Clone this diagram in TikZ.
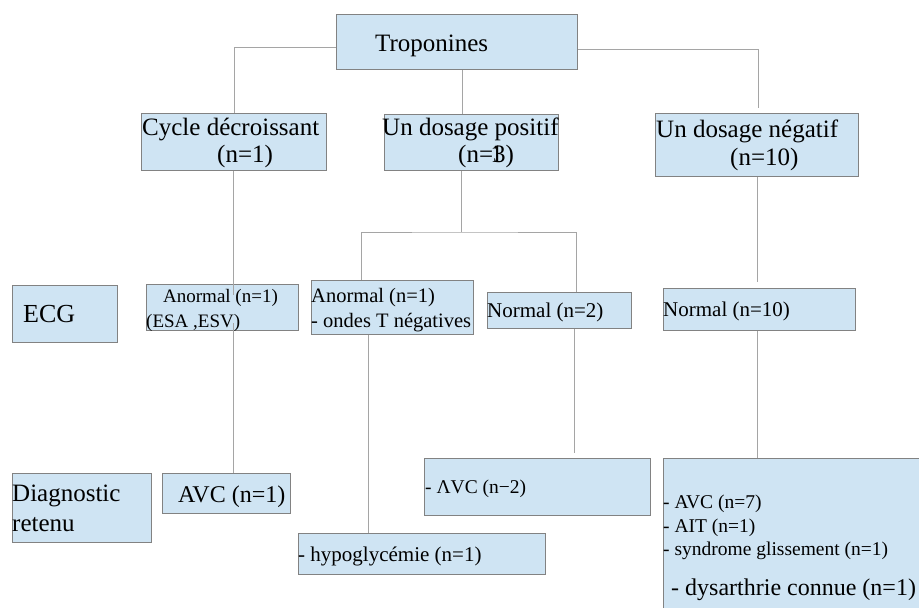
\documentclass[tikz,border=0pt]{standalone}
\usepackage{fontspec}
\setmainfont{Liberation Serif}
\definecolor{boxfill}{RGB}{207,228,243}
\definecolor{boxline}{RGB}{130,130,130}
\definecolor{linkline}{RGB}{165,165,165}
\newcommand\fsz[1]{\fontsize{#1}{#1}\selectfont}
\begin{document}
\begin{tikzpicture}[x=1pt,y=-1pt,
  cbox/.style={draw=boxline, fill=boxfill, line width=1pt, inner sep=0pt,
    anchor=north west},
  txt/.style={inner sep=0pt, anchor=base west, text=black},
  link/.style={draw=linkline, line width=1pt}]
\useasboundingbox (0,0) rectangle (919,608);
\clip (0,0) rectangle (919,608);

% boxes
\node[cbox, minimum width=241pt, minimum height=55pt] (trop) at (336,14) {};
\node[cbox, minimum width=185pt, minimum height=57pt] (cyc) at (141,113) {};
\node[cbox, minimum width=174pt, minimum height=56pt] (pos) at (384,114) {};
\node[cbox, minimum width=203pt, minimum height=63pt] (neg) at (655,113) {};
\node[cbox, minimum width=105pt, minimum height=57pt] (ecg) at (12,285) {};
\node[cbox, minimum width=152pt, minimum height=46pt] (esa) at (146,284) {};
\node[cbox, minimum width=162pt, minimum height=54pt] (ondes) at (311,280) {};
\node[cbox, minimum width=144pt, minimum height=36pt] (nor2) at (487,292) {};
\node[cbox, minimum width=192pt, minimum height=42pt] (nor10) at (663,288) {};
\node[cbox, minimum width=139pt, minimum height=69pt] (diag) at (12,473) {};
\node[cbox, minimum width=128pt, minimum height=40pt] (avc1) at (162,473) {};
\node[cbox, minimum width=226pt, minimum height=57pt] (avc2) at (424,458) {};
\node[cbox, minimum width=247pt, minimum height=41pt] (hypo) at (298,533) {};
\node[cbox, minimum width=270pt, minimum height=170pt] (big) at (663,458) {};

% texts
\node[txt, font=\fsz{25}] (t-trop) at (375,51) {Troponines};
\node[txt, font=\fsz{25}] (t-cyc1) at (142,135) {Cycle décroissant};
\node[txt, font=\fsz{25}] (t-cyc2) at (217,162) {(n=1)};
\node[txt, font=\fsz{25}] (t-pos1) at (382,135) {Un dosage positif};
\node[txt, font=\fsz{25}] (t-pos2) at (458,162) {(n=\makebox[0pt][l]{\hspace{-0.1em}1}3)};
\node[txt, font=\fsz{25}] (t-neg1) at (656,137) {Un dosage négatif};
\node[txt, font=\fsz{25}] (t-neg2) at (730,165) {(n=10)};
\node[txt, font=\fsz{26}] (t-ecg) at (23,322) {ECG};
\node[txt, font=\fsz{19}] (t-esa1) at (163,302) {Anormal (n=1)};
\node[txt, font=\fsz{19}] (t-esa2) at (146,327) {(ESA ,ESV)};
\node[txt, font=\fsz{20.5}] (t-ond1) at (311,302) {Anormal (n=1)};
\node[txt, font=\fsz{20.5}] (t-ond2) at (311,327) {- ondes T négatives};
\node[txt, font=\fsz{21}] (t-nor2) at (487,317) {Normal (n=2)};
\node[txt, font=\fsz{21}] (t-nor10) at (663,316) {Normal (n=10)};
\node[txt, font=\fsz{25}] (t-diag1) at (12,501) {Diagnostic};
\node[txt, font=\fsz{25}] (t-diag2) at (12,531) {retenu};
\node[txt, font=\fsz{24}] (t-avc1) at (178,502) {AVC (n=1)};
\node[txt, font=\fsz{19.5}] (t-avc2) at (425,493) {- ΛVC (n−2)};
\node[txt, font=\fsz{21}] (t-hypo) at (298,561) {- hypoglycémie (n=1)};
\node[txt, font=\fsz{19.5}] (t-big1) at (663,508) {- AVC (n=7)};
\node[txt, font=\fsz{19.5}] (t-big2) at (663,532) {- AIT (n=1)};
\node[txt, font=\fsz{19.5}] (t-big3) at (663,555) {- syndrome glissement (n=1)};
\node[txt, font=\fsz{24}] (t-big4) at (671,595) {- dysarthrie connue (n=1)};

% connectors
\coordinate (negfree) at (758,108);
\coordinate (fork) at (461,232);
\coordinate (esaIn) at (233,295);
\coordinate (esaOut) at (233,323);
\coordinate (nor2free) at (574,453);
\coordinate (nor10free) at (757,282);

\draw[link] ([yshift=-5.5pt]trop.west) -| (cyc.north);
\draw[link] ([yshift=-7.5pt]trop.east) -| (negfree);
\draw[link] (trop.south -| 462,0) -- (pos.north -| 462,0);
\draw[link] (pos.south -| fork) -- (fork);
\draw[link] (ondes.north -| 361,0) |- (fork) -| (nor2.north -| 576,0);
\draw[link] (cyc.south -| esaIn) -- (esaIn);
\draw[link] (esaOut) -- (avc1.north -| esaOut);
\draw[link] (ondes.south -| 368,0) -- (hypo.north -| 368,0);
\draw[link] (nor2.south -| nor2free) -- (nor2free);
\draw[link] (neg.south -| nor10free) -- (nor10free);
\draw[link] (nor10.south -| nor10free) -- (big.north -| nor10free);
\end{tikzpicture}
\end{document}
